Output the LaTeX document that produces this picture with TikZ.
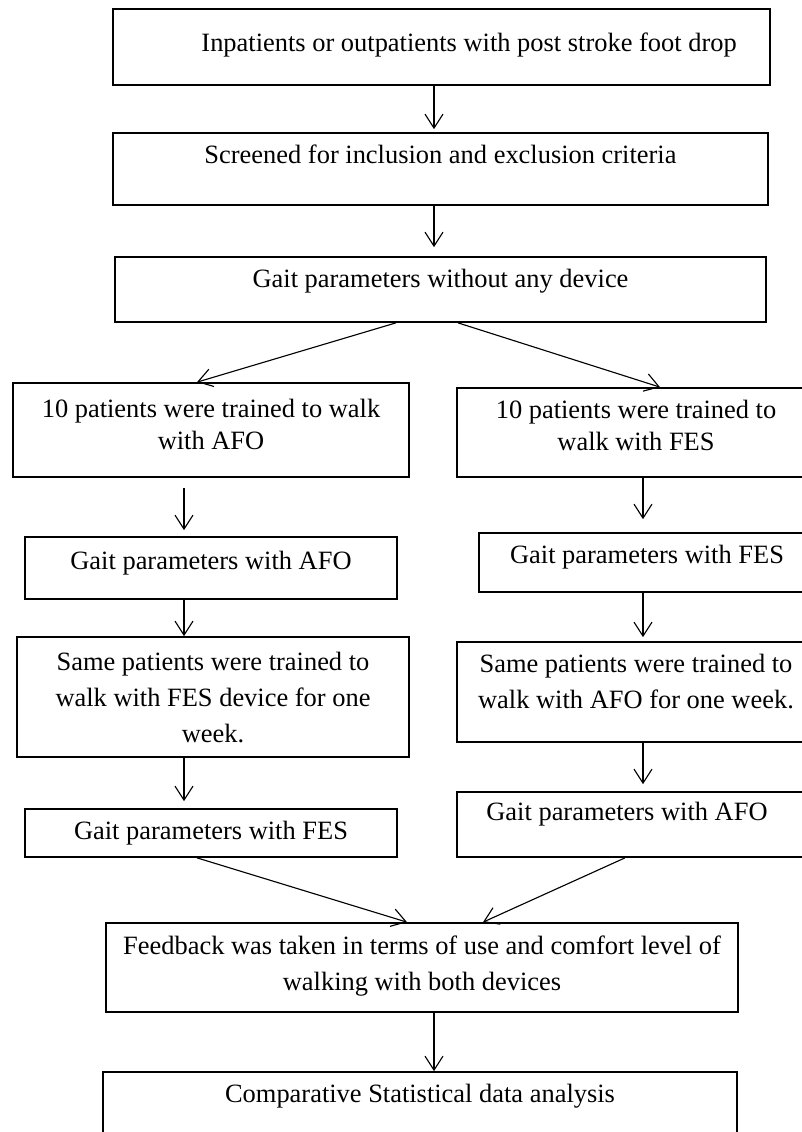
\documentclass[tikz,border=0pt]{standalone}
\usepackage{fontspec}
\setmainfont{Liberation Serif}
\usetikzlibrary{arrows.meta}

\begin{document}
\begin{tikzpicture}[x=0.025cm,y=-0.025cm,>={Straight Barb[length=0.35cm,width=0.45cm]},
  font=\fontsize{18.8}{22.7}\selectfont,
  box/.style={draw,line width=1.2pt,inner sep=0pt},
  txt/.style={anchor=base,align=center,inner sep=0pt},
  arr/.style={->,line width=0.8pt}]
\useasboundingbox (0,0) rectangle (802,1132);

% columns of the vertical arrows
\coordinate (mcol) at (434,0);
\coordinate (lcol) at (184,0);
\coordinate (rcol) at (643,0);

% boxes (label base = last line of text)
\node[box,minimum width=16.425cm,minimum height=1.9cm,
  label={[txt,yshift=-1.075cm,xshift=0.69cm]north:Inpatients or outpatients with post stroke foot drop}] (pat) at (441.5,47) {};
\node[box,minimum width=16.375cm,minimum height=1.8cm,
  label={[txt,yshift=-0.775cm]north:Screened for inclusion and exclusion criteria}] (scr) at (440.5,169) {};
\node[box,minimum width=16.275cm,minimum height=1.625cm,
  label={[txt,yshift=-0.775cm]north:Gait parameters without any device}] (gnone) at (440.5,289.5) {};

% left arm: AFO first
\node[box,minimum width=9.9cm,minimum height=2.35cm,
  label={[txt,yshift=-1.675cm]north:10 patients were trained to walk\\with AFO}] (trafo) at (211,430) {};
\node[box,minimum width=9.3cm,minimum height=1.55cm,
  label={[txt,yshift=-0.825cm]north:Gait parameters with AFO}] (gafo) at (211,568) {};
\node[box,minimum width=9.8cm,minimum height=3cm,
  label={[txt,yshift=-2.65cm]north:Same patients were trained to\\[0.1cm]walk with FES device for one\\[0.1cm]week.}] (swfes) at (213,697) {};
\node[box,minimum width=9.3cm,minimum height=1.2cm,
  label={[txt,yshift=-0.775cm]north:Gait parameters with FES}] (gfes2) at (211,833) {};

% right arm: FES first
\node[box,minimum width=8.95cm,minimum height=2.225cm,
  label={[txt,yshift=-1.575cm]north:10 patients were trained to\\walk with FES}] (trfes) at (636,432.5) {};
\node[box,minimum width=8.4cm,minimum height=1.475cm,
  label={[txt,yshift=-0.775cm]north:Gait parameters with FES}] (gfes) at (647,562.5) {};
\node[box,minimum width=8.95cm,minimum height=2.5cm,
  label={[txt,yshift=-1.675cm]north:Same patients were trained to\\[0.1cm]walk with AFO for one week.}] (swafo) at (636,692) {};
\node[box,minimum width=8.95cm,minimum height=1.625cm,
  label={[txt,yshift=-0.725cm,xshift=-0.225cm]north:Gait parameters with AFO}] (gafo2) at (636,824.5) {};

\node[box,minimum width=15.8cm,minimum height=2.225cm,
  label={[txt,yshift=-1.7cm]north:Feedback was taken in terms of use and comfort level of\\[0.1cm]walking with both devices}] (fb) at (422,967.5) {};
\node[box,minimum width=15.85cm,minimum height=2.2cm,
  label={[txt,yshift=-0.775cm]north:Comparative Statistical data analysis}] (stat) at (420,1116) {};

% arrows
\draw[arr,shorten >=0.075cm] (pat.south -| mcol) -- (scr.north -| mcol);
\draw[arr,shorten >=0.225cm] (scr.south -| mcol) -- (gnone.north -| mcol);
\draw[arr] ([xshift=-1.1125cm]gnone.south) -- ([xshift=-0.35cm]trafo.north);
\draw[arr] ([xshift=0.4375cm]gnone.south) -- ([xshift=0.6cm]trfes.north);

\draw[arr,shorten <=0.25cm,shorten >=0.15cm] (trafo.south -| lcol) -- (gafo.north -| lcol);
\draw[arr] (gafo.south -| lcol) -- (swfes.north -| lcol);
\draw[arr,shorten >=0.175cm] (swfes.south -| lcol) -- (gfes2.north -| lcol);

\draw[arr,shorten >=0.325cm] (trfes.south -| rcol) -- (gfes.north -| rcol);
\draw[arr,shorten >=0.1cm] (gfes.south -| rcol) -- (swafo.north -| rcol);
\draw[arr,shorten >=0.175cm] (swafo.south -| rcol) -- (gafo2.north -| rcol);

\draw[arr] ([xshift=-0.35cm]gfes2.south) -- ([xshift=-0.375cm]fb.north);
\draw[arr] ([xshift=-0.275cm]gafo2.south) -- ([xshift=1.525cm]fb.north);
\draw[arr] (fb.south -| mcol) -- (stat.north -| mcol);
\end{tikzpicture}
\end{document}
